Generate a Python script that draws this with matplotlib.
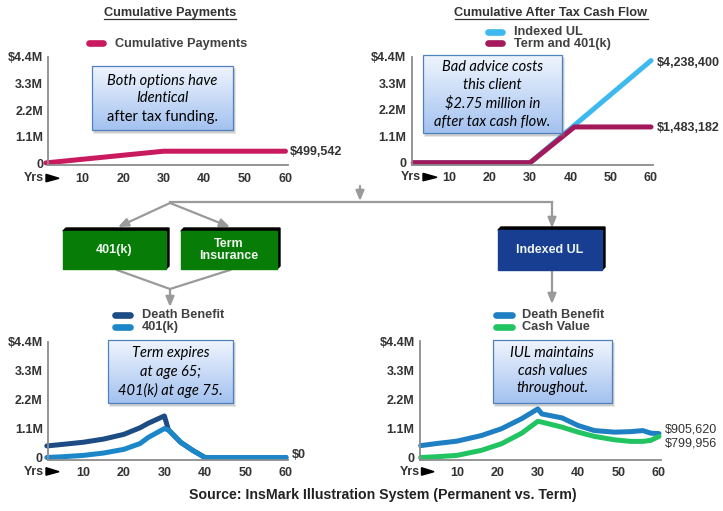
import matplotlib
matplotlib.use('Agg')
import matplotlib.pyplot as plt
import numpy as np
from matplotlib.patches import Rectangle, Polygon, FancyArrowPatch

plt.rcParams['font.family'] = ['Liberation Sans', 'DejaVu Sans']

# ---- data (values in $ millions) ----
x_ticks = [10, 20, 30, 40, 50, 60]
y_ticks = [0, 1.1, 2.2, 3.3, 4.4]
y_tick_labels = ['0', '1.1M', '2.2M', '3.3M', '$4.4M']

# cumulative payments
pay_years = [1, 30, 60]
pay_total = [0.0167, 0.4995, 0.4995]

# cumulative after tax cash flow
cf_years = [1, 30, 41, 60]
cf_iul = [0.0, 0.0, 1.554, 4.2384]
cf_term = [0.0, 0.0, 1.4832, 1.4832]

# term + 401(k)
tk_years = [1, 5, 10, 15, 20, 24, 26, 30, 31, 34, 37, 40, 60]
tk_death = [0.44, 0.50, 0.58, 0.70, 0.88, 1.13, 1.30, 1.58, 1.05, 0.58, 0.27, 0.0, 0.0]
tk_401k = [0.0, 0.03, 0.08, 0.17, 0.31, 0.53, 0.76, 1.10, 1.05, 0.58, 0.27, 0.0, 0.0]

# indexed UL
iul_years = [1, 5, 10, 16, 21, 26, 30, 31, 36, 40, 44, 49, 53, 56, 58, 60]
iul_death = [0.45, 0.53, 0.62, 0.83, 1.09, 1.47, 1.84, 1.65, 1.50, 1.21, 1.02, 0.96, 0.98, 1.02, 0.92, 0.906]
iul_cash = [0.0, 0.03, 0.08, 0.27, 0.52, 0.92, 1.37, 1.34, 1.15, 0.96, 0.80, 0.67, 0.61, 0.61, 0.65, 0.80]

W, H = 723, 511
fig = plt.figure(figsize=(W / 100, H / 100), dpi=100)

TXT = '#333333'


def chart(px10, k, xlim, y0, s):
    # px10: pixel x of year 10, k: pixels per year, y0: pixel y of zero, s: pixels per $1M
    ylo, yhi = -0.08, 4.4
    x0 = px10 + (xlim[0] - 10) * k
    x1 = px10 + (xlim[1] - 10) * k
    yb = y0 - ylo * s
    yt = y0 - yhi * s
    ax = fig.add_axes([x0 / W, 1 - yb / H, (x1 - x0) / W, (yb - yt) / H])
    ax.set_xlim(xlim)
    ax.set_ylim(ylo, yhi)
    ax.patch.set_alpha(0)
    for side in ('top', 'right'):
        ax.spines[side].set_visible(False)
    for side in ('left', 'bottom'):
        ax.spines[side].set_color('#8c8c8c')
        ax.spines[side].set_linewidth(1.3)
    ax.set_xticks(x_ticks)
    ax.set_xticklabels([str(t) for t in x_ticks])
    ax.set_yticks(y_ticks)
    ax.set_yticklabels(y_tick_labels)
    ax.tick_params(length=0, labelsize=9, labelcolor=TXT)
    ax.tick_params(axis='x', pad=5.5)
    ax.tick_params(axis='y', pad=3.8)
    for lab in ax.get_xticklabels() + ax.get_yticklabels():
        lab.set_fontweight('bold')
    return ax


def line(ax, x, y, color):
    ax.plot(x, y, color=color, lw=3.6, solid_capstyle='round',
            solid_joinstyle='round', clip_on=False)


ax1 = chart(82.5, 4.06, (1.6, 60.5), 163.3, 24.2)
line(ax1, pay_years, pay_total, '#c9195f')

ax2 = chart(449.5, 4.03, (0.6, 60.5), 162.7, 24.1)
line(ax2, cf_years, cf_iul, '#3db9f0')
line(ax2, cf_years, cf_term, '#a3195b')

ax3 = chart(83.3, 4.054, (1.3, 60.5), 457.5, 26.3)
line(ax3, tk_years, tk_death, '#1d4b84')
line(ax3, tk_years, tk_401k, '#1b87c9')

ax4 = chart(457, 4.04, (0.8, 60.5), 457.5, 26.4)
line(ax4, iul_years, iul_death, '#1f7fc3')
line(ax4, iul_years, iul_cash, '#22c462')

# ---- overlay in pixel coordinates ----
ov = fig.add_axes([0, 0, 1, 1], zorder=10)
ov.patch.set_alpha(0)
ov.axis('off')


def yrs(x_right, tri0, tri1, y):
    ov.text(x_right, y, 'Yrs', ha='right', va='center', fontsize=9,
            fontweight='bold', color=TXT)
    ov.add_patch(Polygon([(tri0, y - 4), (tri1, y), (tri0, y + 3.5)],
                         closed=True, color='black'))


yrs(43.5, 46, 59, 178.3)
yrs(420.5, 423, 437, 177.3)
yrs(43.5, 46, 59, 471.7)
yrs(420, 421.5, 434, 471.7)


def legend_item(x0, x1, xt, y, color, label):
    ov.plot([x0 + 3, x1 - 3], [y, y], color=color, lw=4.8, solid_capstyle='round')
    ov.text(xt, y, label, va='center', ha='left', fontsize=9.2,
            fontweight='bold', color='#404040')


legend_item(86, 106, 115, 43.5, '#c9195f', 'Cumulative Payments')
legend_item(485, 505, 514, 31.7, '#3db9f0', 'Indexed UL')
legend_item(485, 505, 514, 43.5, '#a3195b', 'Term and 401(k)')
legend_item(112, 133, 142, 315, '#1d4b84', 'Death Benefit')
legend_item(112, 133, 142, 327, '#1b87c9', '401(k)')
legend_item(493, 515, 522, 315, '#1f7fc3', 'Death Benefit')
legend_item(493, 515, 522, 327, '#22c462', 'Cash Value')

# titles (underlined)
titles = [ov.text(170, 13, 'Cumulative Payments', ha='center', va='center',
                  fontsize=9.2, fontweight='bold', color=TXT),
          ov.text(551, 13, 'Cumulative After Tax Cash Flow', ha='center',
                  va='center', fontsize=9.2, fontweight='bold', color=TXT)]

# end value labels
for x, y, s, w in [(290, 152, '$499,542', 'bold'), (657, 63, '$4,238,400', 'bold'),
                   (657, 128, '$1,483,182', 'bold'), (292, 455, '$0', 'bold'),
                   (665, 429.3, '$905,620', 'normal'), (665, 443.3, '$799,956', 'normal')]:
    ov.text(x, y, s, ha='left', va='center', fontsize=9, fontweight=w, color=TXT)


# callout boxes
def callout(x0, y0, x1, y1, rows):
    ov.add_patch(Rectangle((x0 + 1, y0 + 2), x1 - x0 + 2, y1 - y0 + 2,
                           color='#808080', alpha=0.18, lw=0, zorder=2))
    ov.add_patch(Rectangle((x0 + 2, y0 + 3), x1 - x0, y1 - y0,
                           color='#808080', alpha=0.25, lw=0, zorder=2))
    g = np.linspace(0, 1, 64)[:, None, None]
    c0 = np.array([0.94, 0.96, 0.995])
    c1 = np.array([0.64, 0.76, 0.94])
    img = c0 * (1 - g) + c1 * g
    ov.imshow(img, extent=(x0, x1, y1, y0), aspect='auto',
              interpolation='bilinear', zorder=3)
    ov.add_patch(Rectangle((x0, y0), x1 - x0, y1 - y0, fill=False,
                           ec='#4f81bd', lw=0.9, zorder=4))
    for txt, y, style in rows:
        ov.text((x0 + x1) / 2, y, txt, ha='center', va='center', fontsize=10.5,
                family=['Lato', 'DejaVu Sans'], style=style, color='#000000', zorder=5)


callout(92, 66, 233, 130, [('Both options have', 80.7, 'italic'),
                           ('Identical', 98.3, 'italic'),
                           ('after tax funding.', 116.7, 'normal')])
callout(423, 55, 562, 133, [('Bad advice costs', 66.7, 'italic'),
                            ('this client', 85, 'italic'),
                            ('$2.75 million in', 103.3, 'italic'),
                            ('after tax cash flow.', 121.7, 'italic')])
callout(108, 340, 233, 403, [('Term expires', 352.7, 'italic'),
                             ('at age 65;', 371.7, 'italic'),
                             ('401(k) at age 75.', 390, 'italic')])
callout(493, 340, 612, 403, [('IUL maintains', 352.7, 'italic'),
                             ('cash values', 370.7, 'italic'),
                             ('throughout.', 388.3, 'italic')])

# flow diagram
GRAY = '#9a9a9a'


def flow_box(x0, y0, x1, y1, color, label):
    ov.add_patch(Polygon([(x0, y0), (x0 + 3, y0 - 3), (x1 + 3, y0 - 3),
                          (x1 + 3, y1 - 3), (x1, y1)], closed=True,
                         color='black', zorder=2))
    ov.add_patch(Rectangle((x0, y0), x1 - x0, y1 - y0, color=color, zorder=3))
    ov.text((x0 + x1) / 2, (y0 + y1) / 2, label, ha='center', va='center',
            fontsize=9, fontweight='bold', color='#eef5ee', linespacing=1.0, zorder=4)


def arrow(p0, p1):
    ov.add_patch(FancyArrowPatch(p0, p1, arrowstyle='-|>,head_length=0.6,head_width=0.25',
                                 mutation_scale=10, color=GRAY, lw=1.6,
                                 shrinkA=0, shrinkB=0))


flow_box(63, 231, 166, 269, '#077d07', '401(k)')
flow_box(181, 231, 277, 269, '#077d07', 'Term\nInsurance')
flow_box(498, 230, 602, 270, '#173e91', 'Indexed UL')

arrow((360, 186), (360, 201))
ov.plot([170, 552], [202, 202], color=GRAY, lw=1.6)
arrow((552, 202), (552, 228))
arrow((170, 203), (118, 227))
arrow((170, 203), (230, 227))
ov.plot([117, 170, 230], [270, 289, 270], color=GRAY, lw=1.6)
arrow((170, 289), (170, 307))
arrow((552, 271), (552, 304))

ov.text(383, 495, 'Source: InsMark Illustration System (Permanent vs. Term)',
        ha='center', va='center', fontsize=10.2, fontweight='bold', color='#222222')

ov.set_xlim(0, W)
ov.set_ylim(H, 0)

# underline titles
fig.canvas.draw()
renderer = fig.canvas.get_renderer()
for t in titles:
    bb = t.get_window_extent(renderer)
    ov.plot([bb.x0, bb.x1], [19, 19], color=TXT, lw=0.9)
ov.set_xlim(0, W)
ov.set_ylim(H, 0)

fig.savefig('out.png', dpi=100)
